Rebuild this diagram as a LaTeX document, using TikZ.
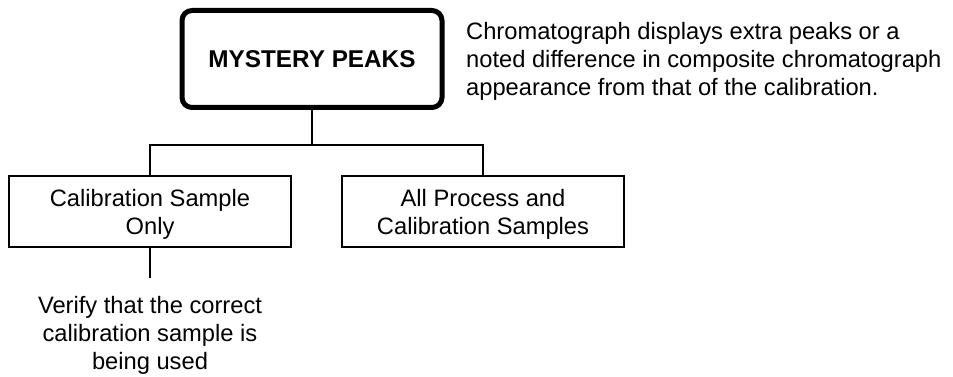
\documentclass[tikz,border=0pt]{standalone}
\usepackage{fontspec}
\setmainfont{Liberation Sans}
\begin{document}
\begin{tikzpicture}[x=1pt,y=-1pt,
  txt/.style={font=\fontsize{23.7}{28}\selectfont},
  box/.style={draw, line width=1.3pt, inner sep=0pt, txt, align=center, minimum width=282pt, minimum height=71pt},
  conn/.style={line width=1.3pt}]
\useasboundingbox (0,0) rectangle (953,377);
\node[draw, line width=5pt, rounded corners=10pt, minimum width=260pt, minimum height=97pt, inner sep=0pt,
      font=\bfseries\fontsize{24.3}{28}\selectfont] (main) at (312,59) {MYSTERY PEAKS};
\node[txt, anchor=north west, inner sep=0pt, align=left] (note) at (466,22)
  {Chromatograph displays extra peaks or a\\noted difference in composite chromatograph\\appearance from that of the calibration.};
\node[box] (left) at (150,211.5) {\rule{0pt}{23pt}Calibration Sample\\Only};
\node[box] (right) at (483,211.5) {\rule{0pt}{23pt}All Process and\\Calibration Samples};
\coordinate (j) at (312,145);
\coordinate (jl) at (150,145);
\coordinate (jr) at (483,145);
\coordinate (lend) at (150,278);
\node[txt, anchor=north, inner sep=0pt, align=center] (verify) at (150,296)
  {Verify that the correct\\calibration sample is\\being used};
\draw[conn] (main.south) -- (j);
\draw[conn] (left.north) -- (jl) -- (jr) -- (right.north);
\draw[conn] (left.south) -- (lend);
\end{tikzpicture}
\end{document}
